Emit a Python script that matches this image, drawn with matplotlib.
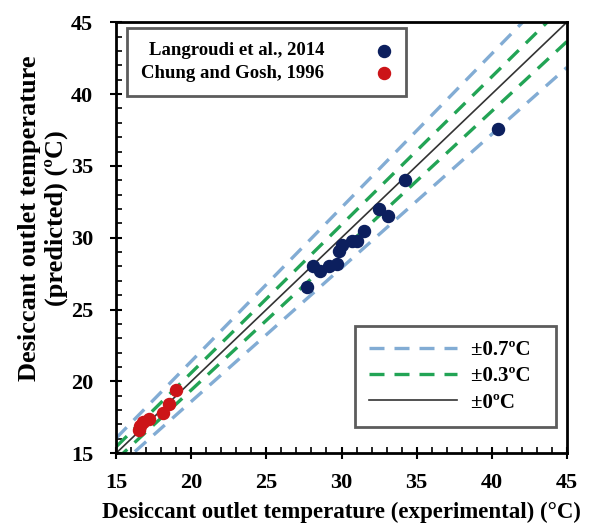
import numpy as np
import matplotlib
matplotlib.use("Agg")
import matplotlib.pyplot as plt
from matplotlib.ticker import MultipleLocator

plt.rcParams['font.family'] = ['Liberation Serif', 'DejaVu Serif']
plt.rcParams['font.weight'] = 'bold'

# Langroudi et al., 2014
lang_x = [27.7, 28.1, 28.6, 29.2, 29.7, 29.8, 30.0, 30.7, 31.0, 31.5, 32.5, 33.1, 34.2, 40.4]
lang_y = [26.6, 28.0, 27.7, 28.0, 28.2, 29.1, 29.5, 29.8, 29.8, 30.5, 32.0, 31.5, 34.0, 37.6]
# Chung and Gosh, 1996
chung_x = [16.5, 16.6, 16.8, 17.2, 18.1, 18.5, 19.0]
chung_y = [16.6, 16.9, 17.2, 17.4, 17.8, 18.4, 19.4]

bands = [0.07, 0.03]
band_labels = ['\u00b10.7\u00baC', '\u00b10.3\u00baC']
band_colors = ['#82acd4', '#22a455']

fig, ax = plt.subplots(figsize=(5.96, 5.30), dpi=100)
fig.subplots_adjust(left=0.195, right=0.951, top=0.958, bottom=0.145)

xx = np.array([15, 45])
handles = []
for b, lab, c in zip(bands, band_labels, band_colors):
    h, = ax.plot(xx, xx * (1 + b), ls=(0, (4.5, 3)), color=c, lw=2.4, label=lab + '  ')
    ax.plot(xx, xx * (1 - b), ls=(0, (4.5, 3)), color=c, lw=2.4)
    handles.append(h)
h0, = ax.plot(xx, xx, color='#333333', lw=1.2, label='\u00b10\u00baC  ')
handles.append(h0)

s1 = ax.scatter(lang_x, lang_y, s=75, color='#0c1f5e', zorder=3, label='Langroudi et al., 2014')
s2 = ax.scatter(chung_x, chung_y, s=75, color='#cc1418', zorder=3, label='Chung and Gosh, 1996')

ax.set_xlim(15, 45)
ax.set_ylim(15, 45)
ax.xaxis.set_major_locator(MultipleLocator(5))
ax.yaxis.set_major_locator(MultipleLocator(5))
ax.xaxis.set_minor_locator(MultipleLocator(1))
ax.yaxis.set_minor_locator(MultipleLocator(1))
ax.tick_params(which='major', direction='inout', length=9, width=1.5, labelsize=16)
ax.tick_params(axis='x', which='major', pad=10)
ax.tick_params(axis='y', which='major', pad=12)
ax.tick_params(which='minor', direction='in', length=4, width=1.2)
for sp in ax.spines.values():
    sp.set_linewidth(2)

ax.set_xlabel('Desiccant outlet temperature (experimental) (\u00b0C)', fontsize=16.5, fontweight='bold', labelpad=6)
ax.set_ylabel('Desiccant outlet temperature\n(predicted) (\u00baC)', fontsize=19, fontweight='bold',
              labelpad=2, linespacing=1.2)
ax.yaxis.label.set_y(0.545)

leg1 = ax.legend(handles=[s1, s2], loc='upper left', markerfirst=False, fancybox=False,
                 edgecolor='#333333', fontsize=13.5, handlelength=0.8, handletextpad=2.8,
                 borderpad=0.75, labelspacing=0.3, borderaxespad=0,
                 bbox_to_anchor=(0.024, 0.986))
leg1.get_frame().set_linewidth(2)
ax.add_artist(leg1)
leg2 = ax.legend(handles=handles, loc='lower right', fancybox=False, edgecolor='#333333',
                 fontsize=15, handlelength=4.2, handletextpad=0.7, borderpad=0.7, labelspacing=0.3,
                 borderaxespad=0, bbox_to_anchor=(0.976, 0.06))
leg2.get_frame().set_linewidth(2)

fig.savefig('out.png', dpi=100)
